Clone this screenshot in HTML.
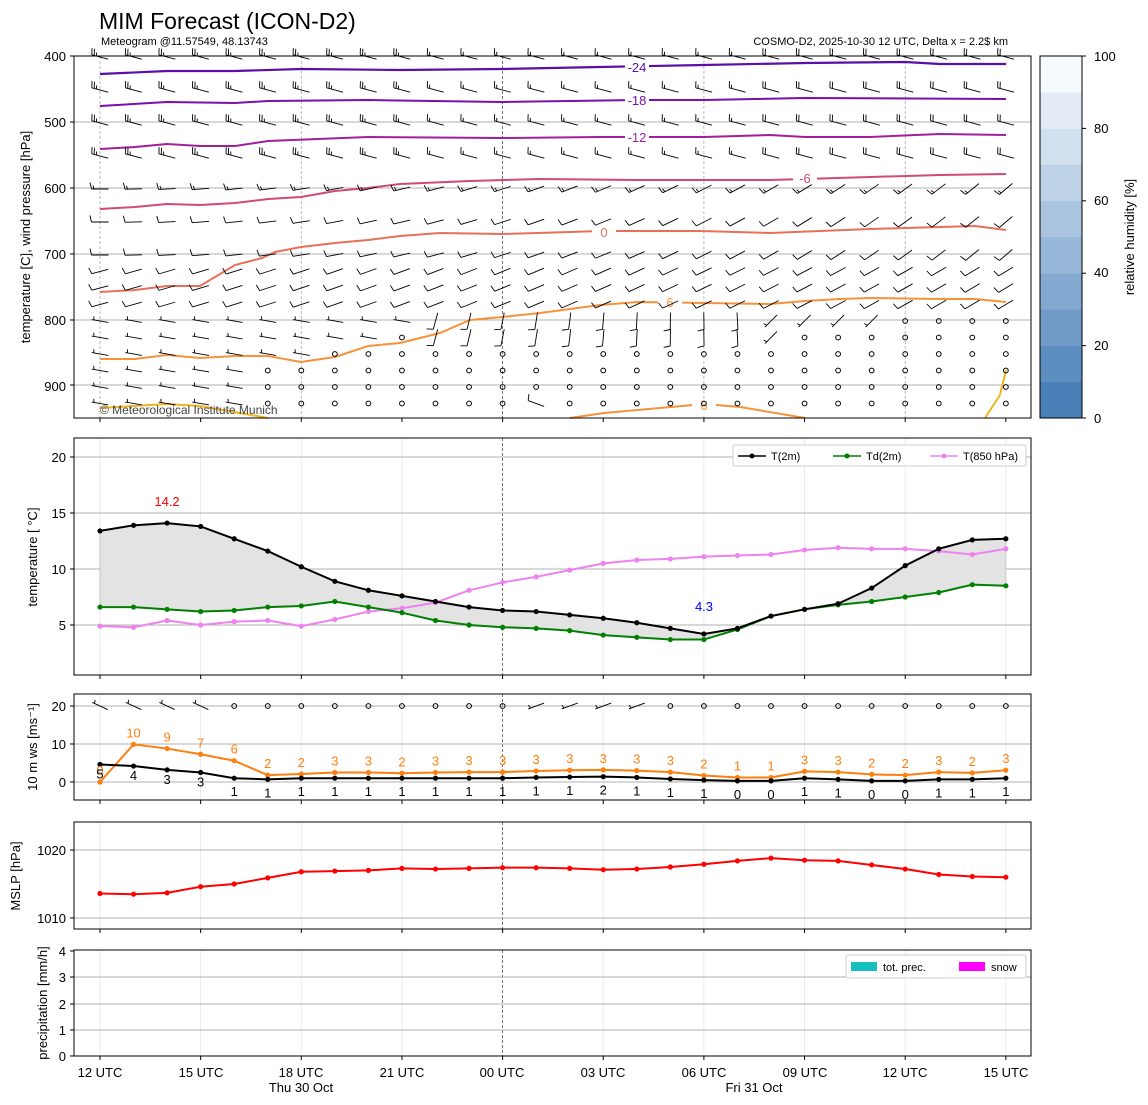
<!DOCTYPE html>
<html><head><meta charset="utf-8">
<style>
html,body{margin:0;padding:0;background:#fff;}
svg{display:block;font-family:"Liberation Sans","DejaVu Sans",sans-serif;}
</style></head><body>
<svg id="s" width="1148" height="1105" viewBox="0 0 1148 1105" xmlns="http://www.w3.org/2000/svg">
<text x="99" y="29" font-size="23">MIM Forecast (ICON-D2)</text>
<text x="101" y="45" font-size="11">Meteogram @11.57549, 48.13743</text>
<text x="1008" y="45" font-size="11" text-anchor="end">COSMO-D2, 2025-10-30 12 UTC, Delta x = 2.2$ km</text>
<g id="grid"></g>
<g id="data"></g>
<g font-size="13" fill="#000">
<text x="66" y="61" text-anchor="end">400</text>
<text x="66" y="127" text-anchor="end">500</text>
<text x="66" y="193" text-anchor="end">600</text>
<text x="66" y="259" text-anchor="end">700</text>
<text x="66" y="325" text-anchor="end">800</text>
<text x="66" y="391" text-anchor="end">900</text>
<text x="66" y="462" text-anchor="end">20</text>
<text x="66" y="518" text-anchor="end">15</text>
<text x="66" y="574" text-anchor="end">10</text>
<text x="66" y="630" text-anchor="end">5</text>
<text x="66" y="711" text-anchor="end">20</text>
<text x="66" y="749" text-anchor="end">10</text>
<text x="66" y="787" text-anchor="end">0</text>
<text x="66" y="855" text-anchor="end">1020</text>
<text x="66" y="923" text-anchor="end">1010</text>
<text x="66" y="956" text-anchor="end">4</text>
<text x="66" y="982" text-anchor="end">3</text>
<text x="66" y="1009" text-anchor="end">2</text>
<text x="66" y="1035" text-anchor="end">1</text>
<text x="66" y="1061" text-anchor="end">0</text>
<text x="1094" y="61">100</text>
<text x="1094" y="133">80</text>
<text x="1094" y="205">60</text>
<text x="1094" y="277">40</text>
<text x="1094" y="350">20</text>
<text x="1094" y="423">0</text>
<text x="100" y="1077" text-anchor="middle">12 UTC</text>
<text x="201" y="1077" text-anchor="middle">15 UTC</text>
<text x="301" y="1077" text-anchor="middle">18 UTC</text>
<text x="402" y="1077" text-anchor="middle">21 UTC</text>
<text x="502" y="1077" text-anchor="middle">00 UTC</text>
<text x="603" y="1077" text-anchor="middle">03 UTC</text>
<text x="704" y="1077" text-anchor="middle">06 UTC</text>
<text x="805" y="1077" text-anchor="middle">09 UTC</text>
<text x="905" y="1077" text-anchor="middle">12 UTC</text>
<text x="1006" y="1077" text-anchor="middle">15 UTC</text>
<text x="301" y="1092" text-anchor="middle">Thu 30 Oct</text>
<text x="754" y="1092" text-anchor="middle">Fri 31 Oct</text>
<text transform="translate(30,237) rotate(-90)" text-anchor="middle">temperature [C], wind pressure [hPa]</text>
<text transform="translate(37,557) rotate(-90)" text-anchor="middle">temperature [ °C]</text>
<text transform="translate(37,747) rotate(-90)" text-anchor="middle">10 m ws [ms⁻¹]</text>
<text transform="translate(20,876) rotate(-90)" text-anchor="middle">MSLP [hPa]</text>
<text transform="translate(47,1003) rotate(-90)" text-anchor="middle">precipitation [mm/h]</text>
<text transform="translate(1134,237) rotate(-90)" text-anchor="middle">relative humidity [%]</text>
</g>
<g font-size="11">
<rect x="733" y="445" width="293" height="21" fill="#fff" stroke="#ccc" rx="2"/>
<line x1="738" y1="456" x2="766" y2="456" stroke="#000" stroke-width="1.5"/><circle cx="752" cy="456" r="2.5" fill="#000"/>
<text x="771" y="460">T(2m)</text>
<line x1="833" y1="456" x2="861" y2="456" stroke="#008000" stroke-width="1.5"/><circle cx="847" cy="456" r="2.5" fill="#008000"/>
<text x="866" y="460">Td(2m)</text>
<line x1="930" y1="456" x2="958" y2="456" stroke="#ee82ee" stroke-width="1.5"/><circle cx="944" cy="456" r="2.5" fill="#ee82ee"/>
<text x="963" y="460">T(850 hPa)</text>
<rect x="846" y="955" width="180" height="23" fill="#fff" stroke="#ccc" rx="2"/>
<rect x="851" y="962" width="26" height="9" fill="#17bfbf"/>
<text x="883" y="971">tot. prec.</text>
<rect x="959" y="962" width="26" height="9" fill="#ff00ff"/>
<text x="991" y="971">snow</text>
</g>
<text x="167" y="506" font-size="13" fill="red" text-anchor="middle">14.2</text>
<text x="704" y="611" font-size="13" fill="blue" text-anchor="middle">4.3</text>
<g id="labs" font-size="13" text-anchor="middle"></g>
<text x="100" y="414" font-size="12" fill="#444">© Meteorological Institute Munich</text>
</svg>
<script>
const NS="http://www.w3.org/2000/svg";
const G=document.getElementById('grid'),D=document.getElementById('data'),L=document.getElementById('labs');
function el(p,t,a){const e=document.createElementNS(NS,t);for(const k in a)e.setAttribute(k,a[k]);p.appendChild(e);return e;}
const X=h=>100+h*33.55;
const panels=[[56,418],[438,675],[694,800],[822,929],[950,1056]];
const c0=[74,128,184],c1=[247,251,255];
for(let i=0;i<10;i++){const t=i/9;const c=c0.map((v,j)=>Math.round(v+(c1[j]-v)*t));
 const y0=418-i*36.2;el(G,'rect',{x:1040,y:y0-36.2,width:42,height:36.4,fill:'rgb('+c.join(',')+')'});}
el(G,'rect',{x:1040,y:56,width:42,height:362,fill:'none',stroke:'#000','stroke-width':1});
[0,20,40,60,80,100].forEach(v=>{const y=418-v*3.62;el(G,'line',{x1:1082,x2:1086,y1:y,y2:y,stroke:'#000'});});
for(let pi=0;pi<5;pi++){const a=panels[pi][0],b=panels[pi][1];
 for(let h=0;h<=27;h+=3){const x=X(h);
  el(G,'line',{x1:x,x2:x,y1:b,y2:b+4,stroke:'#000'});
  if(pi==0&&h%6)continue;
  el(G,'line',{x1:x,x2:x,y1:a,y2:b,stroke:(h==12?'#555':(pi==0?'#aaa':'#e6e6e6')),'stroke-width':0.8,'stroke-dasharray':((pi==0||h==12)?'3,2':'none')});
 }
}
function hg(ys){ys.forEach(y=>el(G,'line',{x1:74,x2:1031,y1:y,y2:y,stroke:'#b0b0b0','stroke-width':1}));}
hg([122,188,254,320,385]);hg([457,513,569,625]);hg([706,744,782]);hg([850,918]);hg([977,1004,1030]);
[56,122,188,254,320,385,457,513,569,625,706,744,782,850,918,951,977,1004,1030,1056].forEach(y=>el(G,'line',{x1:70,x2:74,y1:y,y2:y,stroke:'#000'}));
function pl(pts,c,w){el(D,'polyline',{points:pts.map(p=>p.join(',')).join(' '),fill:'none',stroke:c,'stroke-width':w||2});}
pl([[100,74],[167,71],[235,71],[301,69],[400,70],[502,69],[600,67],[704,65],[805,63],[905,62],[940,64],[1006,64]],'#5a10a8',2.2);
pl([[100,106],[167,102],[235,103],[268,101],[368,100],[502,102],[570,101],[640,100],[704,100],[805,98],[1006,99]],'#7a10aa',2);
pl([[100,149],[135,147],[167,144],[200,146],[235,146],[268,141],[368,137],[502,138],[600,137],[704,137],[770,135],[805,137],[870,137],[940,134],[1006,135]],'#a0209c',2);
pl([[100,209],[135,207],[167,204],[200,205],[235,203],[268,199],[301,197],[335,191],[368,188],[400,184],[470,181],[540,179],[640,180],[700,180],[770,180],[805,179],[870,177],[940,175],[1006,174]],'#d04a78',2);
pl([[100,292],[135,290],[167,286],[200,286],[235,265],[262,258],[275,252],[301,247],[335,243],[368,240],[400,236],[440,233],[502,234],[570,232],[600,231],[700,231],[770,233],[870,229],[940,227],[975,226],[1006,230]],'#e8705a',2);
pl([[100,359],[135,359],[167,355],[200,358],[235,356],[268,356],[301,362],[335,357],[368,346],[400,343],[440,333],[470,320],[502,317],[540,313],[570,309],[600,305],[637,302],[704,303],[770,304],[805,301],[840,299],[870,298],[940,299],[975,299],[1006,302]],'#f5923a',2);
pl([[570,418],[604,413],[704,404],[740,407],[805,418]],'#f5923a',2);
pl([[100,408],[167,404],[200,406],[268,418]],'#f0b41c',2);
pl([[985,418],[1000,395],[1006,370]],'#f0b41c',2);
[['-24',637,71,'#5a10a8'],['-18',637,104,'#7a10aa'],['-12',637,141,'#a0209c'],['-6',805,182,'#d04a78'],['0',604,236,'#e8705a'],['6',670,306,'#f5923a'],['6',704,409,'#f5923a']].forEach(a=>{
 const t=a[0],x=a[1],y=a[2],c=a[3];
 el(D,'rect',{x:x-12,y:y-9,width:24,height:14,fill:'#fff'});const e=el(D,'text',{x:x,y:y+1,fill:c,'font-size':13,'text-anchor':'middle'});e.textContent=t;});
const rows=[400,450,500,550,600,650,700,725,750,775,800,825,850,875,900,925];
const Yp=p=>56+(p-400)*0.66;
function wind(h,p){
 if(p>=875&&h>=5&&!(p==925&&h==13))return null;
 if(p==850&&h>=7)return null;
 if(p==825&&(h==9||h>=21))return null;
 if(p==800&&h>=24)return null;
 let d,s;
 if(p<=550){d=285;s=h<10?25:(h<20?15:20);}
 else if(p<=700){d=270-h*1.5;s=p<=600?15:10;}
 else if(p<=775){d=255-h*0.6;s=10;}
 else{ if(h>=10&&h<=19){d=195-(h-10)*2;s=10;} else {d=h<10?280:225;s=p<800?10:5;} }
 if(p>=850&&h==13){d=290;s=10;}
 return [d,s];
}
function barb(x,y,d,s){
 const r=d*Math.PI/180,fx=Math.sin(r),fy=-Math.cos(r);const Lh=8.5;
 const ax=x+fx*Lh,ay=y+fy*Lh,bx=x-fx*Lh,by=y-fy*Lh;
 let path='M'+bx+','+by+'L'+ax+','+ay;const px=-fy,py=fx;
 let n=Math.round(s/5),pos=0;
 while(n>=2){const sx=ax-fx*pos,sy=ay-fy*pos;path+='M'+sx+','+sy+'l'+(px*6.5+fx*1.5)+','+(py*6.5+fy*1.5);n-=2;pos+=2.5;}
 if(n==1){if(pos==0)pos=2.5;const sx=ax-fx*pos,sy=ay-fy*pos;path+='M'+sx+','+sy+'l'+(px*3.5+fx)+','+(py*3.5+fy);}
 el(D,'path',{d:path,stroke:'#000','stroke-width':0.9,fill:'none'});
}
for(let h=0;h<=27;h++)for(const p of rows){const x=X(h),y=Yp(p)+1;const w=wind(h,p);
 if(!w)el(D,'circle',{cx:x,cy:y,r:2.4,fill:'none',stroke:'#000','stroke-width':1});else barb(x,y,w[0],w[1]);}
const T=[13.4,13.9,14.1,13.8,12.7,11.6,10.2,8.9,8.1,7.6,7.1,6.6,6.3,6.2,5.9,5.6,5.2,4.7,4.2,4.7,5.8,6.4,6.9,8.3,10.3,11.8,12.6,12.7];
const Td=[6.6,6.6,6.4,6.2,6.3,6.6,6.7,7.1,6.6,6.1,5.4,5.0,4.8,4.7,4.5,4.1,3.9,3.7,3.7,4.6,5.8,6.4,6.8,7.1,7.5,7.9,8.6,8.5];
const T8=[4.9,4.8,5.4,5.0,5.3,5.4,4.9,5.5,6.2,6.5,7.0,8.1,8.8,9.3,9.9,10.5,10.8,10.9,11.1,11.2,11.3,11.7,11.9,11.8,11.8,11.6,11.3,11.8];
const Y2=v=>625-(v-5)*11.2;
const fillPts=T.map((v,i)=>[X(i),Y2(v)]).concat(Td.map((v,i)=>[X(i),Y2(v)]).reverse());
el(D,'polygon',{points:fillPts.map(p=>p.join(',')).join(' '),fill:'#e3e3e3',stroke:'#bdbdbd','stroke-width':0.8});
function series(arr,Yf,c){const pts=arr.map((v,i)=>[X(i),Yf(v)]);pl(pts,c,2);pts.forEach(p=>el(D,'circle',{cx:p[0],cy:p[1],r:2.6,fill:c}));}
series(T8,Y2,'#ee82ee');series(Td,Y2,'#008000');series(T,Y2,'#000');
const Y3=v=>782-v*3.8;
const ws=[4.6,4.2,3.2,2.5,1,0.7,1,1,1,1,1,1,1,1.2,1.3,1.4,1.2,0.8,0.5,0.3,0.3,1,0.7,0.3,0.3,0.7,0.7,1];
const gs=[0,9.9,8.8,7.3,5.6,1.8,2.1,2.5,2.5,2.3,2.5,2.6,2.6,2.9,3.1,3.2,3,2.6,1.7,1.2,1.2,2.8,2.6,2.0,1.8,2.6,2.4,3.1];
const wl=[5,4,3,3,1,1,1,1,1,1,1,1,1,1,1,2,1,1,1,0,0,1,1,0,0,1,1,1];
const gl=[0,10,9,7,6,2,2,3,3,2,3,3,3,3,3,3,3,3,2,1,1,3,3,2,2,3,2,3];
series(gs,Y3,'#ff7f0e');series(ws,Y3,'#000');
for(let i=0;i<28;i++){let t=el(L,'text',{x:X(i),y:Y3(gs[i])-7,fill:'#ff7f0e'});t.textContent=gl[i];
 t=el(L,'text',{x:X(i),y:Y3(ws[i])+(i<4?14:18),fill:'#000'});t.textContent=wl[i];}
for(let h=0;h<=27;h++){const x=X(h),y=706;
 if(h<=3)barb(x,y,295,5);else if(h>=13&&h<=16)barb(x,y,250,5);else el(D,'circle',{cx:x,cy:y,r:2.4,fill:'none',stroke:'#000'});}
const P=[1013.6,1013.5,1013.7,1014.6,1015,1015.9,1016.8,1016.9,1017,1017.3,1017.2,1017.3,1017.4,1017.4,1017.3,1017.1,1017.2,1017.5,1017.9,1018.4,1018.8,1018.5,1018.4,1017.8,1017.2,1016.4,1016.1,1016];
series(P,v=>850-(v-1020)*6.8,'#ff0000');
panels.forEach(a=>el(D,'rect',{x:74,y:a[0],width:957,height:a[1]-a[0],fill:'none',stroke:'#000','stroke-width':1}));
</script>
</body></html>
